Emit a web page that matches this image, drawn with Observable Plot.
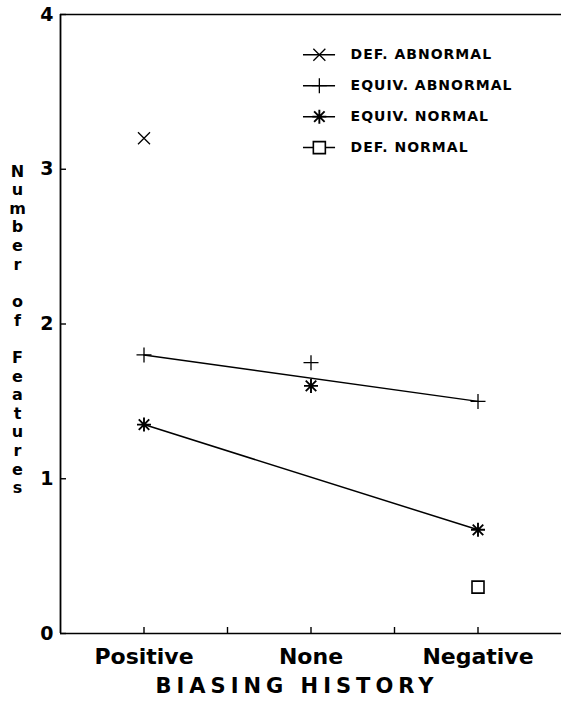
<!DOCTYPE html>
<html><head><meta charset="utf-8">
<script src="https://cdn.jsdelivr.net/npm/d3@7"></script>
<script src="https://cdn.jsdelivr.net/npm/@observablehq/plot@0.6"></script>
<style>body{margin:0;background:#fff;} svg{display:block}</style>
</head><body><div id="chart"></div>
<script>
const categories = ["Positive", "None", "Negative"];
const seriesNames = ["DEF. ABNORMAL", "EQUIV. ABNORMAL", "EQUIV. NORMAL", "DEF. NORMAL"];
const defAbnormal = [3.2, null, null];
const equivAbnormal = [1.8, 1.75, 1.5];
const equivNormal = [1.35, 1.6, 0.67];
const defNormal = [null, null, 0.3];
const yTicks = [0, 1, 2, 3, 4];
const xMinorTicks = [1, 1.5, 2, 2.5, 3];
const yTitle = "Number of Features";
const xTitle = "BIASING HISTORY";
const linedSeries = ["EQUIV. ABNORMAL", "EQUIV. NORMAL"];
const lineEnds = ["Positive", "Negative"];

const seriesValues = [defAbnormal, equivAbnormal, equivNormal, defNormal];
const rows = [];
seriesNames.forEach((s, si) => categories.forEach((c, ci) => {
  const v = seriesValues[si][ci];
  if (v != null) rows.push({series: s, category: c, pos: ci + 1, value: v});
}));

const rad = size => Math.sqrt(size / Math.PI);
const symTimes = {draw(ctx, size) { const r = rad(size); ctx.moveTo(-r,-r); ctx.lineTo(r,r); ctx.moveTo(-r,r); ctx.lineTo(r,-r); }};
const symPlus = {draw(ctx, size) { const r = rad(size); ctx.moveTo(-r,0); ctx.lineTo(r,0); ctx.moveTo(0,-r); ctx.lineTo(0,r); }};
const symAsterisk = {draw(ctx, size) { const r = rad(size), d = r * 0.75;
  ctx.moveTo(-r,0); ctx.lineTo(r,0); ctx.moveTo(0,-r); ctx.lineTo(0,r);
  ctx.moveTo(-d,-d); ctx.lineTo(d,d); ctx.moveTo(-d,d); ctx.lineTo(d,-d); }};
const symSquare = {draw(ctx, size) { const r = rad(size); ctx.rect(-r,-r,2*r,2*r); }};

const look = {
  "DEF. ABNORMAL": {symbol: symTimes, r: 6, sw: 1.3},
  "EQUIV. ABNORMAL": {symbol: symPlus, r: 7.5, sw: 1.3},
  "EQUIV. NORMAL": {symbol: symAsterisk, r: 7, sw: 1.9},
  "DEF. NORMAL": {symbol: symSquare, r: 6, sw: 1.6}
};

const legendTop = 3.74, legendStep = 0.2;
const legendSymX = 2.05, legendLineX1 = 1.955, legendLineX2 = 2.147, legendTextX = 2.237;

const marks = [
  Plot.ruleY([0, 4], {stroke: "black", strokeWidth: 1.6}),
  Plot.ruleX([0.5], {stroke: "black", strokeWidth: 1.8}),
  Plot.axisY(yTicks, {tickSize: -6, tickPadding: 13, fontSize: 19, tickFormat: d => String(d), label: null, strokeWidth: 1.4}),
  Plot.axisX(xMinorTicks, {tickSize: -6, tickFormat: () => "", label: null, strokeWidth: 1.4}),
  Plot.axisX([1, 2, 3], {tickSize: 0, tickPadding: 15, fontSize: 22, tickFormat: d => categories[d - 1], label: null}),
  Plot.line(rows.filter(d => linedSeries.includes(d.series) && lineEnds.includes(d.category)),
    {x: "pos", y: "value", z: "series", stroke: "black", strokeWidth: 1.5}),
  ...seriesNames.map(s => Plot.dot(rows.filter(d => d.series === s),
    {x: "pos", y: "value", symbol: look[s].symbol, r: look[s].r, stroke: "black", strokeWidth: look[s].sw, fill: "none"})),
  Plot.ruleY(seriesNames, {y: (d, i) => legendTop - i * legendStep, x1: legendLineX1, x2: legendLineX2, stroke: "black", strokeWidth: 1.5}),
  ...seriesNames.map((s, i) => Plot.dot([s],
    {x: legendSymX, y: legendTop - i * legendStep, symbol: look[s].symbol, r: look[s].r, stroke: "black", strokeWidth: look[s].sw, fill: s === "DEF. NORMAL" ? "white" : "none"})),
  Plot.text(seriesNames, {x: legendTextX, y: (d, i) => legendTop - i * legendStep, text: d => d, textAnchor: "start", fontSize: 14, fontWeight: "bold"}),
  Plot.text([yTitle], {frameAnchor: "left", dx: -43, dy: 5, text: d => d.split("").map(c => c === " " ? "\u00a0" : c).join("\n"), lineHeight: 1.165, fontSize: 16, fontWeight: "bold", textAnchor: "middle"}),
  Plot.text([xTitle], {frameAnchor: "bottom", dy: 59, dx: -14, text: d => d, fontSize: 21, fontWeight: "bold", textAnchor: "middle"})
];

const chart = Plot.plot({
  width: 561, height: 701,
  marginLeft: 60, marginRight: 0, marginTop: 14, marginBottom: 68,
  x: {domain: [0.5, 3.5]},
  y: {domain: [0, 4]},
  style: {fontFamily: "DejaVu Sans", fontWeight: "bold", color: "black", background: "white", overflow: "visible"},
  marks
});
d3.select(chart).selectAll("text").each(function() {
  const t = this.textContent;
  if (seriesNames.includes(t)) this.setAttribute("letter-spacing", "1px");
  if (t === xTitle) this.setAttribute("letter-spacing", "5px");
});
document.getElementById("chart").appendChild(chart);
</script></body></html>
